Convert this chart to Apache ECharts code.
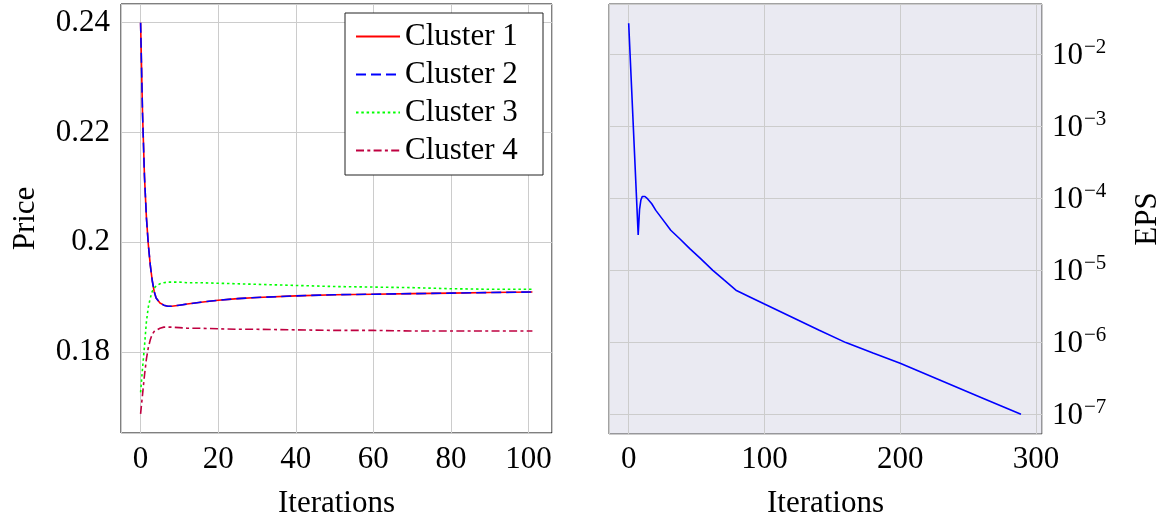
<!DOCTYPE html>
<html><head><meta charset="utf-8">
<script src="https://cdn.jsdelivr.net/npm/echarts@6/dist/echarts.min.js"></script>
<style>html,body{margin:0;padding:0;background:#fff}#c{width:1167px;height:517px}</style>
</head><body><div id="c"></div>
<script>
// ---- data ----
const iterPrice = [0,0.5,1,1.5,2,2.5,3,3.5,4,5,6,7,8,10,12,15,20,25,30,40,50,60,70,80,90,101];
const cluster1 = [0.2400,0.2235,0.2120,0.2045,0.1995,0.1958,0.1930,0.1910,0.1898,0.1889,0.1885,0.1883,0.1883,0.1885,0.1887,0.1890,0.1894,0.1897,0.1899,0.1902,0.1904,0.1905,0.1906,0.1907,0.1908,0.1909];
const cluster2 = [0.2400,0.2235,0.2120,0.2045,0.1995,0.1958,0.1930,0.1910,0.1898,0.1889,0.1885,0.1883,0.1883,0.1885,0.1887,0.1890,0.1894,0.1897,0.1899,0.1902,0.1904,0.1905,0.1906,0.1907,0.1908,0.1909];
const cluster3 = [0.1726,0.1770,0.1810,0.1855,0.1882,0.1898,0.1910,0.1916,0.1920,0.1924,0.1926,0.1927,0.1927,0.1927,0.1926,0.1926,0.1925,0.1924,0.1923,0.1921,0.1919,0.1918,0.1917,0.1915,0.1914,0.1914];
const cluster4 = [0.1687,0.1722,0.1757,0.1787,0.1808,0.1822,0.1832,0.1837,0.1840,0.1843,0.1845,0.1845,0.1845,0.1844,0.1843,0.1843,0.1842,0.1841,0.1841,0.1840,0.1839,0.1839,0.1838,0.1838,0.1838,0.1838];
const seriesNames = ['Cluster 1','Cluster 2','Cluster 3','Cluster 4'];

const iterEps = [0,7,8,9,10,11,12,14,17,20,25,31,38,45,53,62,70,79,90,100,120,140,160,180,200,230,260,289];
const epsValues = [0.027,3.1e-5,7.0e-5,9.5e-5,1.06e-4,1.08e-4,1.06e-4,9.8e-5,8.4e-5,6.8e-5,5.1e-5,3.6e-5,2.7e-5,2.0e-5,1.45e-5,1.0e-5,7.4e-6,5.3e-6,4.2e-6,3.4e-6,2.24e-6,1.48e-6,9.9e-7,7.1e-7,5.1e-7,2.95e-7,1.7e-7,1.0e-7];

const priceXTicks = [0,20,40,60,80,100];
const priceYTicks = [0.18,0.2,0.22,0.24];
const priceYLabels = ['0.18','0.2','0.22','0.24'];
const epsXTicks = [0,100,200,300];
const epsYExps = [-7,-6,-5,-4,-3,-2];

// ---- chart ----
const FONT = 'Liberation Serif';
const zip = (xs, ys) => xs.map((x, i) => [x, ys[i]]);
const near = (arr, v, eps) => arr.findIndex(t => Math.abs(t - v) < eps);

const chart = echarts.init(document.getElementById('c'), null, {renderer: 'canvas'});
const gridLine = {show: true, lineStyle: {color: '#cccccc', width: 1}};
const labelBase = {fontFamily: FONT, fontSize: 31, color: '#000'};

const colors = ['#ff0000', '#0000ff', '#00ff00', '#bf0040'];
const dashes = ['solid', [10, 5], [2.5, 2.8], [8, 3.3, 3, 3.3]];
const priceData = [cluster1, cluster2, cluster3, cluster4];

const series = priceData.map((d, i) => ({
  name: seriesNames[i], type: 'line', xAxisIndex: 0, yAxisIndex: 0,
  data: zip(iterPrice, d), symbol: 'none', smooth: false,
  lineStyle: {color: colors[i], width: 1.6, type: dashes[i]},
  itemStyle: {color: colors[i]}, z: 3 + i
}));
series.push({
  name: 'EPS', type: 'line', xAxisIndex: 1, yAxisIndex: 1,
  data: zip(iterEps, epsValues), symbol: 'none',
  lineStyle: {color: '#0000ff', width: 1.6}, itemStyle: {color: '#0000ff'}
});

chart.setOption({
  animation: false,
  backgroundColor: '#fff',
  grid: [
    {left: 121, right: 615, top: 4, bottom: 84, show: true, borderColor: '#000', borderWidth: 1, backgroundColor: '#fff', containLabel: false, outerBoundsMode: 'none'},
    {left: 609, right: 125, top: 4, bottom: 83, show: true, borderColor: '#444', borderWidth: 1, backgroundColor: '#eaeaf2', containLabel: false, outerBoundsMode: 'none'}
  ],
  xAxis: [
    {type: 'value', gridIndex: 0, min: -5.05, max: 106.05, splitNumber: 5,
     axisLine: {show: false}, axisTick: {show: false}, splitLine: gridLine,
     axisLabel: Object.assign({}, labelBase, {margin: 11, showMinLabel: false, showMaxLabel: false,
       formatter: v => near(priceXTicks, v, 1e-6) >= 0 ? String(Math.round(v)) : ''}),
     name: 'Iterations', nameLocation: 'middle', nameGap: 55, nameTextStyle: labelBase},
    {type: 'value', gridIndex: 1, min: -14.5, max: 304.5, splitNumber: 3,
     axisLine: {show: false}, axisTick: {show: false}, splitLine: gridLine,
     axisLabel: Object.assign({}, labelBase, {margin: 10, showMinLabel: false, showMaxLabel: false,
       formatter: v => near(epsXTicks, v, 1e-6) >= 0 ? String(Math.round(v)) : ''}),
     name: 'Iterations', nameLocation: 'middle', nameGap: 54, nameTextStyle: labelBase}
  ],
  yAxis: [
    {type: 'value', gridIndex: 0, min: 0.1652, max: 0.2434, splitNumber: 4,
     axisLine: {show: false}, axisTick: {show: false}, splitLine: gridLine,
     axisLabel: Object.assign({}, labelBase, {margin: 11, showMinLabel: false, showMaxLabel: false,
       formatter: v => { const k = near(priceYTicks, v, 1e-7); return k >= 0 ? priceYLabels[k] : ''; }}),
     name: 'Price', nameLocation: 'middle', nameGap: 80, nameRotate: 90, nameTextStyle: labelBase},
    {type: 'log', gridIndex: 1, logBase: 10, min: 5.32e-8, max: 0.0501, position: 'right',
     axisLine: {show: false}, axisTick: {show: false}, splitLine: gridLine,
     axisLabel: Object.assign({}, labelBase, {margin: 10, showMinLabel: false, showMaxLabel: false, align: 'left',
       formatter: v => {
         const l = Math.log10(v); const e = Math.round(l);
         if (Math.abs(l - e) > 1e-6 || epsYExps.indexOf(e) < 0) return '';
         return '{b|10}{s|\u2212' + (-e) + '}';
       },
       rich: {
         b: {fontFamily: FONT, fontSize: 31, color: '#000', lineHeight: 34, verticalAlign: 'bottom'},
         s: {fontFamily: FONT, fontSize: 21, color: '#000', lineHeight: 21, verticalAlign: 'top', padding: [0, 0, 0, 1]}
       }}),
     name: 'EPS', nameLocation: 'middle', nameGap: 90, nameRotate: 90, nameTextStyle: labelBase}
  ],
  legend: {
    orient: 'vertical', top: 13, right: 624,
    backgroundColor: '#fff', borderColor: '#222', borderWidth: 1,
    padding: [8, 14, 9, 10], itemWidth: 44, itemHeight: 14, itemGap: 7,
    itemStyle: {opacity: 0},
    textStyle: {fontFamily: FONT, fontSize: 31, color: '#000', lineHeight: 30, width: 124},
    data: seriesNames
  },
  series: series
});
</script></body></html>
